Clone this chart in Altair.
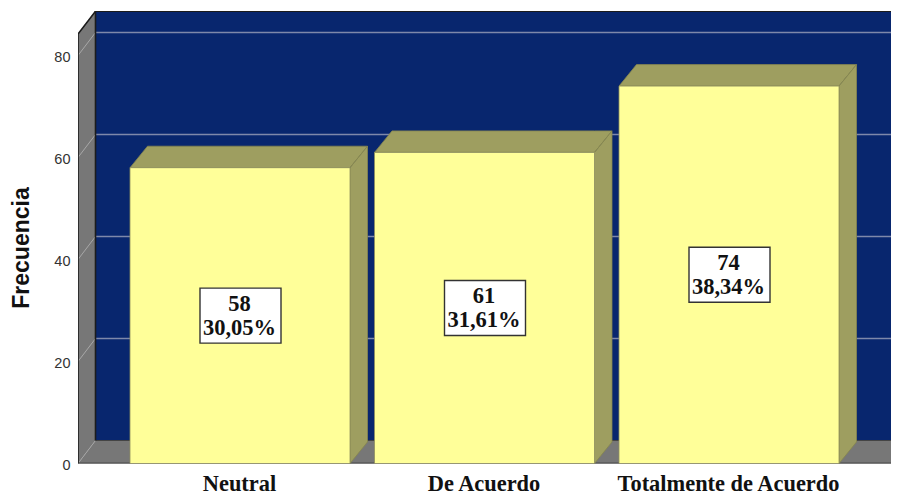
import altair as alt
import pandas as pd

categories = ["Neutral", "De Acuerdo", "Totalmente de Acuerdo"]
counts = [58, 61, 74]
percents = ["30,05%", "31,61%", "38,34%"]
y_ticks = [0, 20, 40, 60, 80]
grid_values = [20, 40, 60, 80]

PW, PH = 813, 452.5
UNIT = 5.1                # px per frequency unit
DX, DY = 17.5, 23 / UNIT  # 3D depth of the walls
BAR_DY = 21.5 / UNIT      # 3D depth of the bars
YMAX = PH / UNIT
FRONT_TOP = YMAX - DY
FLOOR_END = 814
BAR_W = 220
STEP = 244.5
FIRST = 52
BOX_W, BOX_H = 81, 55 / UNIT

xs = alt.Scale(domain=[0, PW], range=[0, PW], nice=False, zero=False)
ys = alt.Scale(domain=[0, YMAX], range=[PH, 0], nice=False, zero=False)
YAX = alt.Axis(
    values=y_ticks, title="Frecuencia", domain=False, ticks=False, grid=False,
    labelFont="Liberation Sans", labelFontSize=14.5, labelColor="#333333", labelPadding=8, labelOffset=1.5,
    titleFont="Liberation Sans", titleFontSize=23, titleFontWeight="bold", titleColor="#111111",
    titleX=-57, titleY=236.5, titleAngle=-90, titleAlign="center", titleBaseline="middle")
X = alt.X("x:Q", scale=xs, axis=None)
Y = alt.Y("y:Q", scale=ys, axis=YAX, stack=None)


def polys(rows, color, stroke=None, sw=0.8):
    df = pd.DataFrame(rows, columns=["g", "x", "y", "y2"])
    kw = {"stroke": stroke, "strokeWidth": sw} if stroke else {}
    return alt.Chart(df).mark_area(color=color, clip=True, opacity=1, interpolate="linear", **kw).encode(
        x=X, y=Y, y2="y2:Q", detail="g:N")


def lines(rows, color, sw):
    df = pd.DataFrame(rows, columns=["g", "x", "y"])
    return alt.Chart(df).mark_line(color=color, strokeWidth=sw, clip=True, interpolate="linear").encode(
        x=X, y=Y, detail="g:N", order="o:Q"
    ).transform_window(o="row_number()", groupby=["g"])


back = polys([[0, DX, DY, YMAX], [0, PW, DY, YMAX]], "#08266e")
left = polys([[0, 0, 0, FRONT_TOP], [0, DX, DY, YMAX]], "#777777")
floor = polys([[0, 0, 0, 0], [0, DX, 0, DY], [0, FLOOR_END, 0, DY], [0, FLOOR_END + DX, DY, DY]], "#777777")

grid_back = lines(sum([[[v, DX, v + DY], [v, PW, v + DY]] for v in grid_values], []), "#7e88aa", 1.6)
grid_left = lines(sum([[[v, 0, v], [v, DX, v + DY]] for v in grid_values], []), "#a8a8a8", 1)
frame = lines(
    [["a", 0, 0], ["a", 0, FRONT_TOP], ["a", DX, YMAX - 0.05], ["a", PW, YMAX - 0.05],
     ["b", DX, DY], ["b", DX, YMAX],
     ["c", 0, 0], ["c", FLOOR_END, 0], ["c", FLOOR_END + DX, DY]],
    "#1c1c1c", 1.6)
floor_edge = lines([["d", DX, DY], ["d", PW, DY]], "#444444", 1)
corner = lines([["e", 0, 0], ["e", DX, DY]], "#a8a8a8", 0.8)

front_rows, top_rows, side_rows = [], [], []
box_rows, label_rows = [], []
for i, (cat, n, p) in enumerate(zip(categories, counts, percents)):
    x0 = FIRST + i * STEP
    x1 = x0 + BAR_W
    front_rows += [[i, x0, 0, n], [i, x1, 0, n]]
    top_rows += [[i, x0, n, n], [i, x0 + DX, n + BAR_DY, n], [i, x1, n + BAR_DY, n], [i, x1 + DX, n + BAR_DY, n + BAR_DY]]
    side_rows += [[i, x1, 0, n], [i, x1 + DX, BAR_DY, n + BAR_DY]]
    cx = (x0 + x1) / 2 + 0.5
    box_rows.append({"x": cx - BOX_W / 2, "x2": cx + BOX_W / 2, "y": n / 2 - BOX_H / 2, "y2": n / 2 + BOX_H / 2})
    label_rows.append({"x": cx, "y": n / 2, "count": str(n), "pct": p, "cat": cat})

tops = polys(top_rows, "#9e9e60", "#85854f")
sides = polys(side_rows, "#9e9e60", "#85854f")
fronts = polys(front_rows, "#ffff99", "#8f8f5e")

labels = pd.DataFrame(label_rows)
boxes = alt.Chart(pd.DataFrame(box_rows)).mark_rect(
    fill="white", stroke="#333333", strokeWidth=1.4).encode(x=X, x2="x2:Q", y=Y, y2="y2:Q")
SERIF = "Liberation Serif"
count_text = alt.Chart(labels).mark_text(font=SERIF, fontWeight="bold", fontSize=22.5, dx=-1, dy=-12, color="#111111").encode(
    x=X, y=Y, text="count:N")
pct_text = alt.Chart(labels).mark_text(font=SERIF, fontWeight="bold", fontSize=22.5, dx=-1, dy=12, color="#111111").encode(
    x=X, y=Y, text="pct:N")
cat_text = alt.Chart(labels).mark_text(font=SERIF, fontWeight="bold", fontSize=22.4, dx=-1, baseline="alphabetic", color="#111111").encode(
    x=X, y=alt.value(PH + 27), text="cat:N")

chart = alt.layer(
    back, grid_back, left, grid_left, floor, corner, floor_edge, frame,
    tops, sides, fronts, boxes, count_text, pct_text, cat_text,
).properties(
    width=PW, height=PH, background="white",
    padding={"left": 70, "top": 3, "right": 0, "bottom": 31.5},
    autosize=alt.AutoSizeParams(type="none"),
).configure_view(stroke=None)

chart.save("out.html", embed_options={"renderer": "svg", "actions": False})
